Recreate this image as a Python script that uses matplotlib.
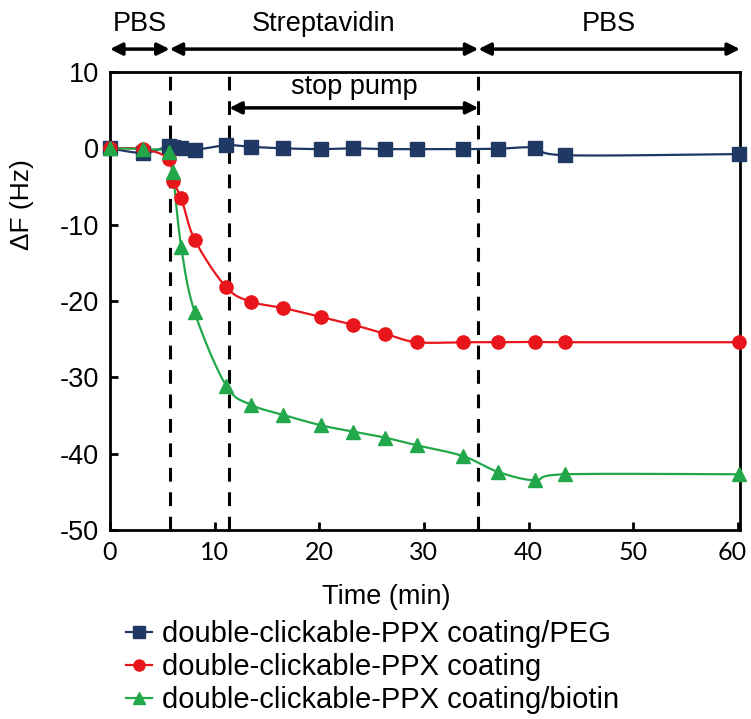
import numpy as np
import matplotlib
matplotlib.use("Agg")
import matplotlib.pyplot as plt
from matplotlib.lines import Line2D
from matplotlib.transforms import ScaledTranslation

plt.rcParams['font.family'] = ['Liberation Sans', 'DejaVu Sans']
plt.rcParams['axes.unicode_minus'] = False

# ---- data ----
time_min = [0, 3.2, 5.6, 6.0, 6.8, 8.1, 11.1, 13.5, 16.5, 20.2, 23.2, 26.3, 29.3, 33.7, 37.1, 40.6, 43.5, 60.1]
peg = [0, -0.6, 0.3, 0.2, 0.0, -0.2, 0.4, 0.2, 0.0, -0.1, 0.0, -0.1, -0.1, -0.1, -0.05, 0.1, -0.9, -0.75]
coating = [0, -0.1, -1.4, -4.3, -6.5, -12.0, -18.2, -20.1, -20.9, -22.1, -23.1, -24.3, -25.4, -25.4, -25.4, -25.35, -25.4, -25.4]
biotin = [0, -0.1, -0.5, -3.1, -12.9, -21.5, -31.1, -33.6, -34.9, -36.3, -37.1, -37.9, -38.9, -40.3, -42.4, -43.5, -42.7, -42.7]

labels = ["double-clickable-PPX coating/PEG",
          "double-clickable-PPX coating",
          "double-clickable-PPX coating/biotin"]
colors = ["#1F3864", "#E8161B", "#22A84A"]
markers = ["s", "o", "^"]

phase_bounds = [0, 5.7, 35.2, 60.2]
phase_labels = ["PBS", "Streptavidin", "PBS"]
dashed_x = [5.7, 11.4, 35.2]
stop_pump = (11.4, 35.2)


def smooth(x, y, n=30):
    x = np.asarray(x, float); y = np.asarray(y, float)
    P = np.column_stack([x, y])
    out = [P[0]]
    N = len(P)
    t = np.linspace(0, 1, n)[1:]
    for i in range(N - 1):
        p0 = P[i - 1] if i > 0 else P[i]
        p1 = P[i]; p2 = P[i + 1]
        p3 = P[i + 2] if i + 2 < N else P[i + 1]
        b1 = p1 + (p2 - p0) / 6.0
        b2 = p2 - (p3 - p1) / 6.0
        for tt in t:
            pt = ((1 - tt) ** 3) * p1 + 3 * ((1 - tt) ** 2) * tt * b1 + 3 * (1 - tt) * tt ** 2 * b2 + tt ** 3 * p2
            out.append(pt)
    out = np.array(out)
    return out[:, 0], out[:, 1]


fig = plt.figure(figsize=(7.51, 7.19), dpi=100)
ax = fig.add_axes([110 / 751, 1 - 530 / 719, 630 / 751, 458 / 719])

for xv in dashed_x:
    ax.axvline(xv, color="black", lw=2.2, ls=(0, (4.5, 3.5)), zorder=1)

series = [peg, coating, biotin]
for s, c, m, lab in zip(series, colors, markers, labels):
    xs, ys = smooth(time_min, s)
    ax.plot(xs, ys, color=c, lw=1.6, zorder=3, clip_on=False)
    ax.plot(time_min, s, ls="none", marker=m, color=c, ms=9.5, mec=c, zorder=4, clip_on=False)

ax.set_xlim(0, 60.2)
ax.set_ylim(-50, 10)
ax.set_xticks(range(0, 61, 10))
ax.set_yticks(range(-50, 11, 10))
ax.tick_params(direction="in", length=6, width=2, labelsize=19.5, pad=8)
xlabs = ax.get_xticklabels()
for lab in xlabs:
    lab.set_fontfamily(["Lato", "DejaVu Sans"])
    lab.set_fontsize(18)
xlabs[-1].set_transform(xlabs[-1].get_transform() + ScaledTranslation(-4 / 72, 0, fig.dpi_scale_trans))
for sp in ax.spines.values():
    sp.set_linewidth(2)

ax.set_xlabel("Time (min)", fontsize=19.5)
ax.xaxis.set_label_coords(0.438, -0.118)
ax.set_ylabel("ΔF (Hz)", fontsize=19)
ax.yaxis.set_label_coords(-0.12, 0.71)

# phase arrows above the axes
trans = ax.get_xaxis_transform()
for a, b, t in zip(phase_bounds[:-1], phase_bounds[1:], phase_labels):
    ax.annotate("", xy=(b, 1.05), xytext=(a, 1.05), xycoords=trans, textcoords=trans,
                arrowprops=dict(arrowstyle="<|-|>", color="black", lw=2.5,
                                mutation_scale=18, shrinkA=0, shrinkB=0), annotation_clip=False)
    ax.text((a + b) / 2, 1.104, t, transform=trans, ha="center", va="center", fontsize=19.5)

# stop pump arrow
ax.annotate("", xy=(stop_pump[1], 5.3), xytext=(stop_pump[0], 5.3),
            arrowprops=dict(arrowstyle="<|-|>", color="black", lw=2.5,
                            mutation_scale=18, shrinkA=0, shrinkB=0))
ax.text(sum(stop_pump) / 2, 8.0, "stop pump", ha="center", va="center", fontsize=19.5)

handles = [Line2D([0], [0], color=c, marker=m, lw=1.6, ms=8, mec=c) for c, m in zip(colors, markers)]
fig.legend(handles, labels, loc="upper left", bbox_to_anchor=(126 / 751, 1 - 620 / 719),
           frameon=False, fontsize=21, handlelength=0.9, handletextpad=0.35, labelspacing=0.17,
           borderaxespad=0, borderpad=0)

fig.savefig("out.png", dpi=100)
